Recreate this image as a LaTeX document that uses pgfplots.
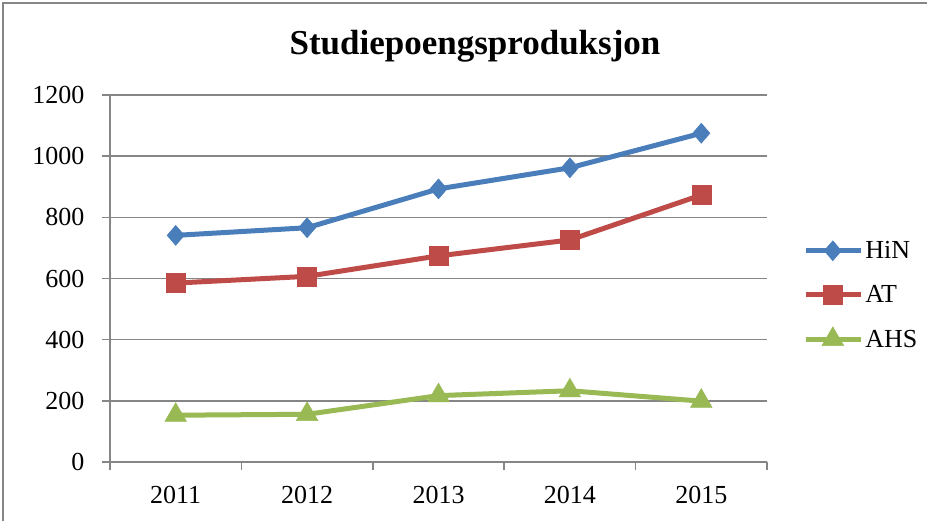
\documentclass[border=0pt]{standalone}
\usepackage{fontspec}
\setmainfont{Liberation Serif}
\usepackage{pgfplots}
\pgfplotsset{compat=1.18}
\definecolor{colhin}{HTML}{4A7EBB}
\definecolor{colat}{HTML}{BE4B48}
\definecolor{colahs}{HTML}{98B954}
\definecolor{gridc}{HTML}{868686}
\begin{document}
\begin{tikzpicture}[x=1pt,y=1pt]
\useasboundingbox (0,0) rectangle (927,-521);
\draw[gridc, line width=1.5pt] (3,-521) -- (3,-3) -- (927,-3);
\node[font=\fontsize{35}{40}\selectfont\bfseries] at (475,-46) {Studiepoengsproduksjon};
\begin{axis}[
  at={(110pt,-462pt)}, anchor=south west,
  scale only axis, width=657pt, height=367pt,
  xmin=2010.5, xmax=2015.5, ymin=0, ymax=1200,
  axis x line*=bottom, axis y line*=left,
  axis line style={gridc, line width=1.5pt, -},
  xtick={2011,2012,2013,2014,2015},
  xticklabels={2011,2012,2013,2014,2015},
  minor xtick={2010.5,2011.5,2012.5,2013.5,2014.5,2015.5},
  every major x tick/.append style={draw=none},
  ytick={0,200,400,600,800,1000,1200},
  ymajorgrids, grid style={gridc, line width=1.5pt},
  tick align=outside, major tick length=8pt, minor tick length=8pt,
  tick style={gridc, line width=1.5pt},
  ticklabel style={font=\fontsize{26}{30}\selectfont, text=black},
  /pgf/number format/assume math mode=true,
  /pgf/number format/1000 sep={},
  yticklabel style={xshift=-14pt},
  xticklabel style={yshift=-13pt},
  clip=false,
  legend style={draw=none, fill=none, at={(1.055,0.455)}, anchor=west,
    font=\fontsize{26}{30}\selectfont, row sep=21pt, inner sep=0pt,
    nodes={inner sep=2pt}},
  legend cell align=left,
  legend image code/.code={\draw[#1, mark repeat=2, mark phase=2] plot coordinates {(0pt,0pt) (27pt,0pt) (55pt,0pt)};},
]
\addplot[colhin, line width=5pt, mark=diamond*, mark size=10pt, mark options={line width=0.5pt, solid, xscale=1.15}]
  coordinates {(2011,741) (2012,766) (2013,893) (2014,962) (2015,1075)};
\addlegendentry{HiN}
\addplot[colat, line width=5pt, mark=square*, mark size=9.5pt, mark options={line width=0.5pt, solid}]
  coordinates {(2011,585) (2012,607) (2013,674) (2014,726) (2015,873)};
\addlegendentry{AT}
\addplot[colahs, line width=5pt, mark=triangle*, mark size=12.5pt, mark options={line width=0.5pt, solid}]
  coordinates {(2011,153) (2012,156) (2013,217) (2014,233) (2015,199)};
\addlegendentry{AHS}
\end{axis}
\end{tikzpicture}
\end{document}
